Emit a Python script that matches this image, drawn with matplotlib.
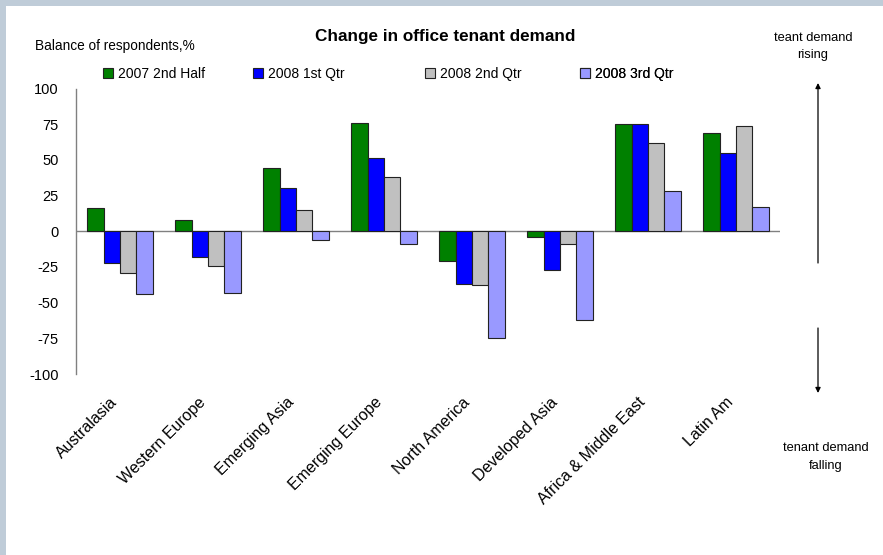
import matplotlib
matplotlib.use("Agg")
import matplotlib.pyplot as plt
import matplotlib.patches as mpatches
import matplotlib.transforms as mtrans
import numpy as np

plt.rcParams['font.family'] = ['Liberation Sans', 'DejaVu Sans']

categories = ["Australasia", "Western Europe", "Emerging Asia", "Emerging Europe",
              "North America", "Developed Asia", "Africa & Middle East", "Latin Am"]
series_names = ["2007 2nd Half", "2008 1st Qtr", "2008 2nd Qtr", "2008 3rd Qtr"]
h2_2007 = [16, 8, 44, 76, -21, -4, 75, 69]
q1_2008 = [-22, -18, 30, 51, -37, -27, 75, 55]
q2_2008 = [-29, -24, 15, 38, -38, -9, 62, 74]
q3_2008 = [-44, -43, -6, -9, -75, -62, 28, 17]
colors = ["#008000", "#0000ff", "#c0c0c0", "#9999ff"]
yticks = [100, 75, 50, 25, 0, -25, -50, -75, -100]

fig = plt.figure(figsize=(8.83, 5.55), dpi=100)
fig.patch.set_facecolor("white")
# border bands (top and left)
fig.patches.append(mpatches.Rectangle((0, 1 - 6/555), 1, 6/555, transform=fig.transFigure,
                                      facecolor="#bfccd8", edgecolor="none", zorder=0))
fig.patches.append(mpatches.Rectangle((0, 0), 6/883, 1, transform=fig.transFigure,
                                      facecolor="#bfccd8", edgecolor="none", zorder=0))

ax = fig.add_axes([76/883, 1 - 374/555, (780 - 76)/883, (374 - 88.5)/555])
x = np.arange(len(categories))
bw = 0.185
data = [h2_2007, q1_2008, q2_2008, q3_2008]
bars = []
for i, (vals, c, name) in enumerate(zip(data, colors, series_names)):
    b = ax.bar(x + (i - 1.5) * bw, vals, width=bw, color=c, edgecolor="#222222",
               linewidth=0.8, label=name, zorder=3)
    bars.append(b)

ax.set_xlim(-0.5, len(categories) - 0.5)
ax.set_ylim(-100, 100)
ax.axhline(0, color="#808080", linewidth=1.0, zorder=2)
for s in ["top", "right", "bottom"]:
    ax.spines[s].set_visible(False)
ax.spines["left"].set_color("#808080")
ax.spines["left"].set_linewidth(1.0)
ax.set_yticks(yticks)
ax.set_yticklabels([str(v) for v in yticks], fontsize=10.5)
ax.tick_params(axis="y", length=0, pad=12.5)
ax.set_xticks(x)
ax.set_xticklabels(categories, rotation=45, ha="right", va="top",
                   rotation_mode="anchor", fontsize=11.5)
ax.tick_params(axis="x", length=0, pad=15)
offset = mtrans.ScaledTranslation(-10 / 100, 0, fig.dpi_scale_trans)
for lbl in ax.get_xticklabels():
    lbl.set_transform(lbl.get_transform() + offset)

# legends placed individually
leg_x = [103, 253, 425, 580]
for i in range(4):
    lg = ax.legend([bars[i]], [series_names[i]], loc="center left",
                   bbox_to_anchor=(leg_x[i] / 883, 1 - 74 / 555),
                   bbox_transform=fig.transFigure, frameon=False, fontsize=10,
                   handlelength=0.75, handleheight=0.75, handletextpad=0.35,
                   borderpad=0, borderaxespad=0)
    for h in lg.legend_handles:
        h.set_edgecolor("#222222")
        h.set_linewidth(0.8)
    ax.add_artist(lg)

fig.text(445 / 883, 1 - 36 / 555, "Change in office tenant demand", ha="center",
         va="center", fontsize=12.3, fontweight="bold")
fig.text(35 / 883, 1 - 46 / 555, "Balance of respondents,%", ha="left",
         va="center", fontsize=9.8)
fig.text(813 / 883, 1 - 46.5 / 555, "teant demand\nrising", ha="center", va="center",
         fontsize=9.3, linespacing=1.6)
fig.text(826 / 883, 1 - 457 / 555, "tenant demand\nfalling", ha="center", va="center",
         fontsize=9.3, linespacing=1.6)

fig.add_artist(mpatches.FancyArrowPatch((818 / 883, 1 - 263 / 555), (818 / 883, 1 - 83 / 555),
                                        transform=fig.transFigure, arrowstyle="-|>,head_length=3,head_width=1.5",
                                        color="black", linewidth=0.9, shrinkA=0, shrinkB=0))
fig.add_artist(mpatches.FancyArrowPatch((818 / 883, 1 - 328 / 555), (818 / 883, 1 - 393 / 555),
                                        transform=fig.transFigure, arrowstyle="-|>,head_length=3,head_width=1.5",
                                        color="black", linewidth=0.9, shrinkA=0, shrinkB=0))

fig.savefig("out.png", dpi=100)
